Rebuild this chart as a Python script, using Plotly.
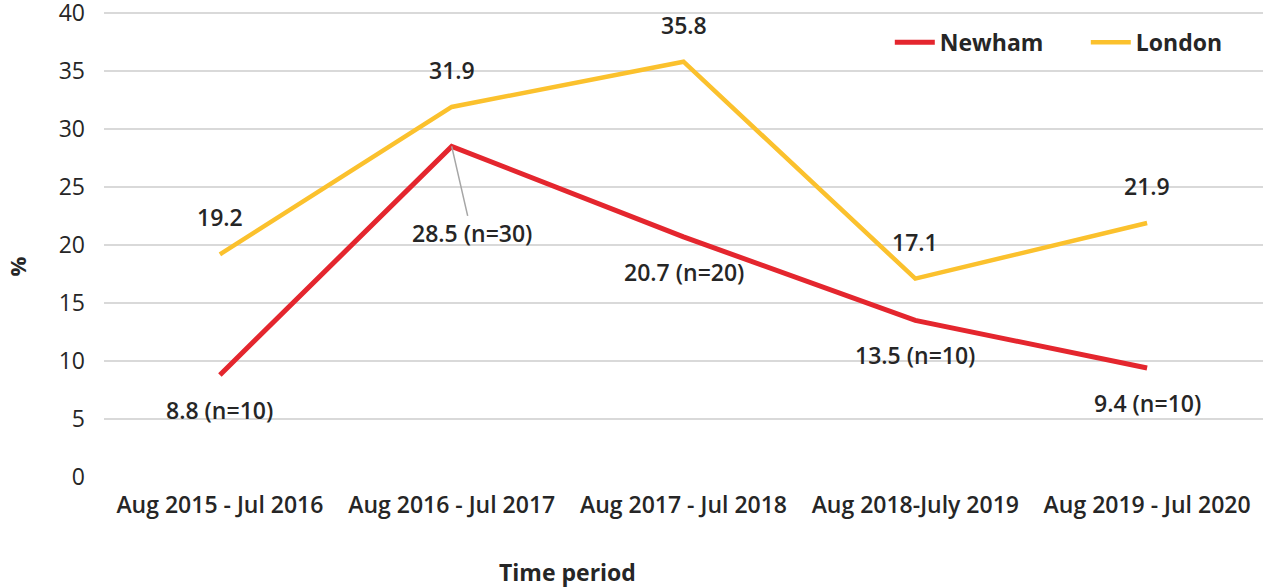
import plotly.graph_objects as go

periods = ["Aug 2015 - Jul 2016", "Aug 2016 - Jul 2017", "Aug 2017 - Jul 2018",
           "Aug 2018-July 2019", "Aug 2019 - Jul 2020"]
newham = [8.8, 28.5, 20.7, 13.5, 9.4]
newham_n = [10, 30, 20, 10, 10]
london = [19.2, 31.9, 35.8, 17.1, 21.9]

RED = "#E4262E"
YELLOW = "#FBC12D"
TEXT = "#262626"
FONT = "Open Sans"

fig = go.Figure()
fig.add_trace(go.Scatter(x=periods, y=newham, name="Newham", mode="lines",
                         line=dict(color=RED, width=5)))
fig.add_trace(go.Scatter(x=periods, y=london, name="London", mode="lines",
                         line=dict(color=YELLOW, width=4.5)))

label_font = dict(family=FONT, size=23, color=TEXT, weight=600)

# London values above each point
for p, v in zip(periods, london):
    fig.add_annotation(x=p, y=v, text=f"{v}", showarrow=False, yshift=37,
                       font=label_font)

# Newham values with counts below each point
for i, (p, v, n) in enumerate(zip(periods, newham, newham_n)):
    label = f"{v} (n={n})"
    if i == 1:
        fig.add_annotation(x=p, y=v, text=label, showarrow=True, arrowhead=0,
                           arrowcolor="#a6a6a6", arrowwidth=1.5, ax=20, ay=87,
                           standoff=0, font=label_font)
    else:
        fig.add_annotation(x=p, y=v, text=label, showarrow=False, yshift=-35,
                           font=label_font)

# Axis titles
fig.add_annotation(x=0, xref="paper", xshift=-87, y=0.45, yref="paper",
                   xanchor="center", yanchor="middle", textangle=-90,
                   text="%", showarrow=False,
                   font=dict(family=FONT, size=22, color=TEXT, weight="bold"))
fig.add_annotation(x=0.4, xref="paper", y=0, yref="paper", yshift=-95,
                   yanchor="middle", text="Time period", showarrow=False,
                   font=dict(family=FONT, size=23, color=TEXT, weight="bold"))

fig.update_layout(
    width=1263, height=588,
    margin=dict(l=104, r=0, t=9, b=111, autoexpand=False),
    paper_bgcolor="white", plot_bgcolor="white",
    font=dict(family=FONT, color=TEXT),
    showlegend=True,
    legend=dict(orientation="h", x=0.678, xanchor="left", y=0.975, yanchor="top",
                font=dict(family=FONT, size=23, color=TEXT, weight="bold"),
                bgcolor="rgba(0,0,0,0)", itemwidth=40, entrywidth=141),
    xaxis=dict(showgrid=False, showline=False, ticks="", range=[-0.5, 4.5],
               ticklabelstandoff=12,
               tickfont=dict(family=FONT, size=23, color=TEXT, weight=600)),
    yaxis=dict(range=[0, 40.345], tickvals=[0, 5, 10, 15, 20, 25, 30, 35, 40],
               showgrid=True, gridcolor="#d9d9d9", ticklabeloverflow="allow",
               gridwidth=1.5, zeroline=False, showline=False,
               ticks="", ticklabelstandoff=18,
               tickfont=dict(family=FONT, size=23, color=TEXT)),
)

fig.write_html("out.html")
